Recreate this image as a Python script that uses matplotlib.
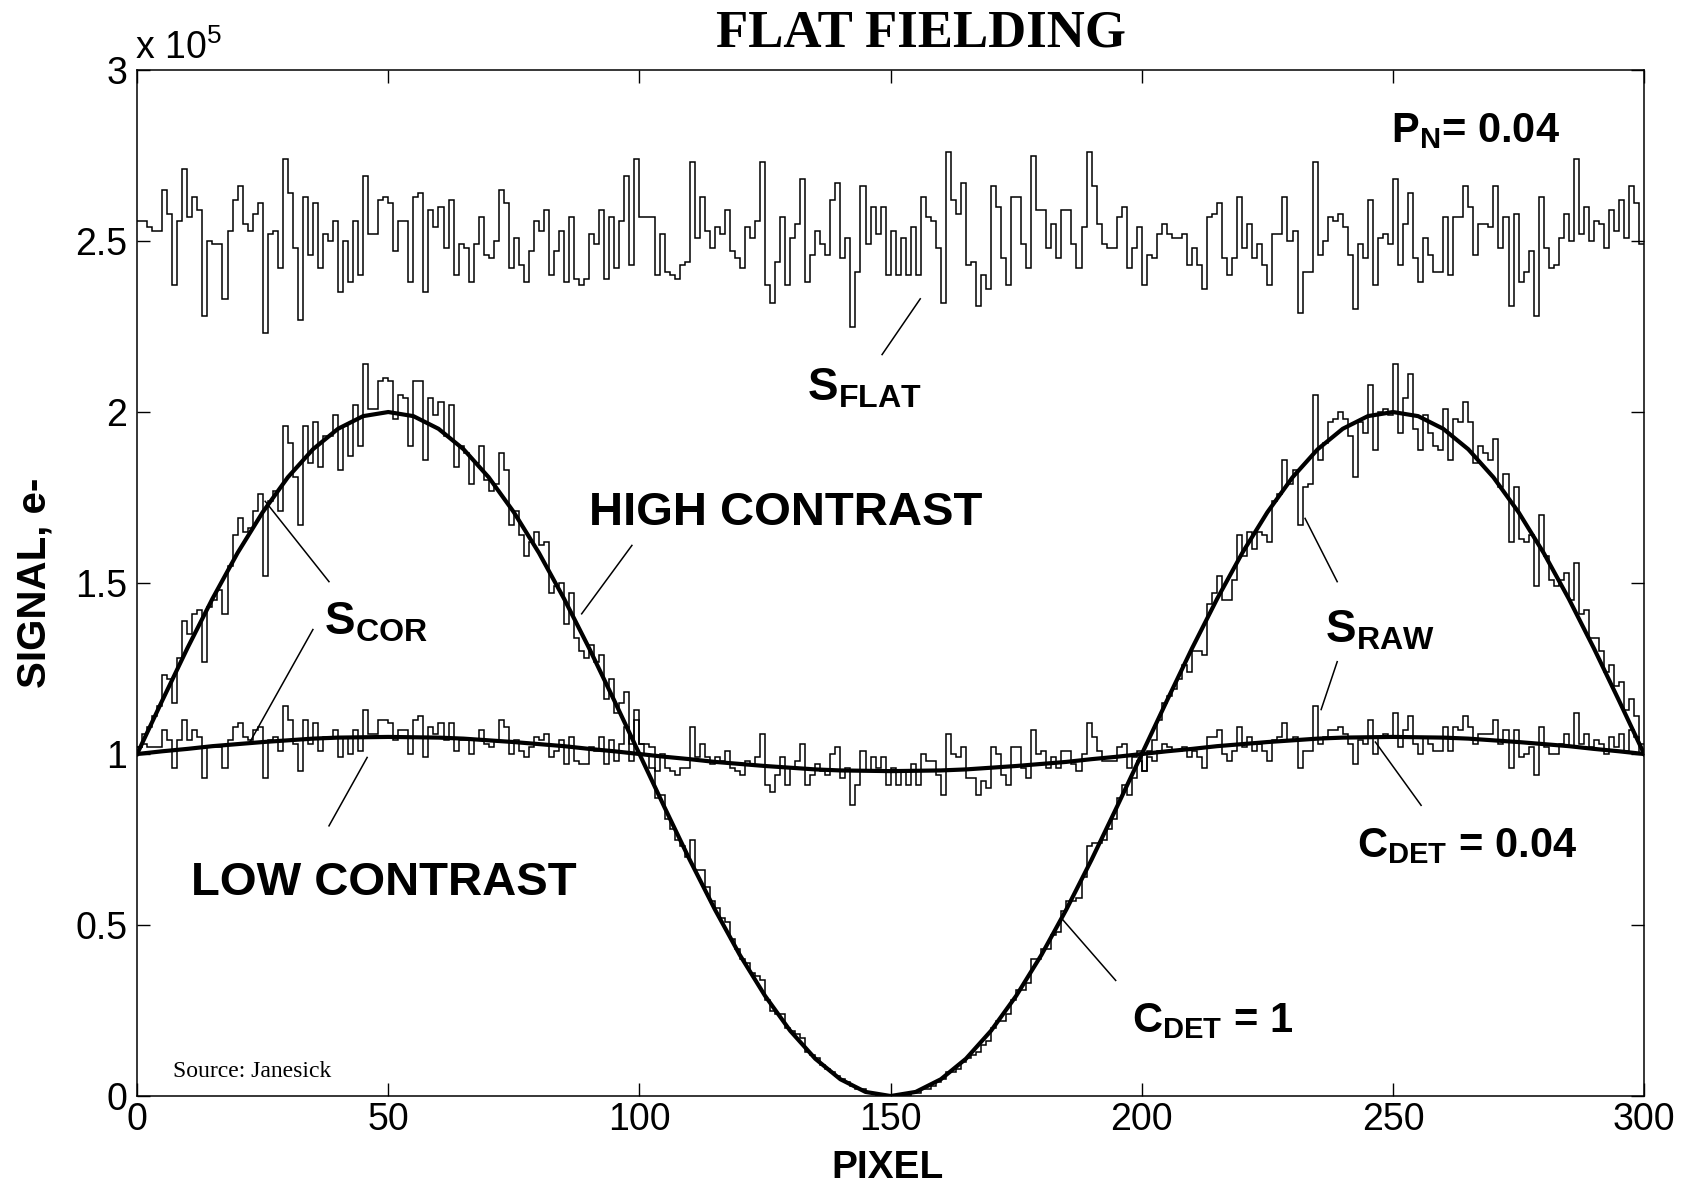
import numpy as np
import matplotlib
matplotlib.use("Agg")
import matplotlib.pyplot as plt

# signal values in units of 1e5 electrons, one value per pixel (0..299)
s_flat = [
    2.56, 2.56, 2.54, 2.53, 2.53, 2.65, 2.58, 2.37, 2.56, 2.71,
    2.57, 2.63, 2.59, 2.28, 2.50, 2.49, 2.49, 2.33, 2.53, 2.62,
    2.66, 2.55, 2.53, 2.58, 2.61, 2.23, 2.52, 2.53, 2.42, 2.74,
    2.64, 2.48, 2.27, 2.63, 2.46, 2.61, 2.42, 2.52, 2.50, 2.56,
    2.35, 2.50, 2.38, 2.56, 2.40, 2.69, 2.52, 2.52, 2.62, 2.63,
    2.61, 2.47, 2.56, 2.56, 2.38, 2.63, 2.64, 2.35, 2.59, 2.54,
    2.60, 2.48, 2.62, 2.40, 2.49, 2.48, 2.38, 2.49, 2.57, 2.46,
    2.45, 2.50, 2.65, 2.61, 2.42, 2.51, 2.43, 2.38, 2.47, 2.56,
    2.53, 2.59, 2.40, 2.47, 2.53, 2.38, 2.57, 2.39, 2.37, 2.39,
    2.52, 2.49, 2.59, 2.39, 2.57, 2.42, 2.56, 2.69, 2.43, 2.74,
    2.57, 2.57, 2.57, 2.40, 2.52, 2.41, 2.40, 2.39, 2.43, 2.44,
    2.73, 2.51, 2.63, 2.53, 2.48, 2.54, 2.52, 2.59, 2.47, 2.45,
    2.42, 2.54, 2.51, 2.56, 2.73, 2.37, 2.32, 2.44, 2.57, 2.37,
    2.51, 2.55, 2.68, 2.38, 2.46, 2.53, 2.49, 2.46, 2.62, 2.67,
    2.45, 2.51, 2.25, 2.41, 2.66, 2.49, 2.60, 2.52, 2.60, 2.40,
    2.53, 2.40, 2.51, 2.40, 2.54, 2.40, 2.63, 2.57, 2.56, 2.48,
    2.32, 2.76, 2.62, 2.58, 2.67, 2.43, 2.44, 2.31, 2.40, 2.36,
    2.66, 2.60, 2.45, 2.37, 2.63, 2.63, 2.49, 2.42, 2.75, 2.59,
    2.59, 2.48, 2.55, 2.45, 2.59, 2.59, 2.49, 2.42, 2.54, 2.76,
    2.66, 2.55, 2.49, 2.48, 2.48, 2.57, 2.60, 2.42, 2.48, 2.54,
    2.37, 2.46, 2.45, 2.52, 2.55, 2.52, 2.51, 2.51, 2.52, 2.43,
    2.48, 2.43, 2.36, 2.57, 2.58, 2.61, 2.45, 2.40, 2.45, 2.63,
    2.48, 2.55, 2.45, 2.49, 2.43, 2.37, 2.52, 2.52, 2.63, 2.50,
    2.53, 2.29, 2.41, 2.41, 2.73, 2.46, 2.50, 2.57, 2.56, 2.58,
    2.54, 2.46, 2.30, 2.49, 2.45, 2.62, 2.37, 2.51, 2.52, 2.49,
    2.68, 2.43, 2.55, 2.64, 2.45, 2.38, 2.51, 2.46, 2.41, 2.41,
    2.57, 2.40, 2.57, 2.57, 2.66, 2.60, 2.46, 2.55, 2.55, 2.54,
    2.66, 2.48, 2.57, 2.31, 2.58, 2.38, 2.41, 2.47, 2.28, 2.63,
    2.48, 2.42, 2.43, 2.51, 2.58, 2.50, 2.74, 2.52, 2.60, 2.50,
    2.56, 2.55, 2.48, 2.59, 2.53, 2.62, 2.51, 2.66, 2.61, 2.49,
]

s_raw_high = [
    1.02, 1.06, 1.08, 1.11, 1.14, 1.23, 1.22, 1.15, 1.28, 1.39,
    1.35, 1.41, 1.42, 1.27, 1.43, 1.45, 1.48, 1.41, 1.55, 1.64,
    1.69, 1.65, 1.66, 1.71, 1.76, 1.52, 1.74, 1.77, 1.71, 1.96,
    1.91, 1.81, 1.67, 1.96, 1.85, 1.97, 1.84, 1.93, 1.93, 1.99,
    1.83, 1.96, 1.87, 2.02, 1.90, 2.14, 2.01, 2.01, 2.09, 2.10,
    2.09, 1.98, 2.05, 2.04, 1.90, 2.09, 2.09, 1.86, 2.04, 1.99,
    2.03, 1.93, 2.02, 1.84, 1.90, 1.88, 1.79, 1.85, 1.90, 1.80,
    1.77, 1.79, 1.88, 1.83, 1.67, 1.71, 1.64, 1.58, 1.62, 1.65,
    1.61, 1.62, 1.47, 1.49, 1.50, 1.38, 1.47, 1.34, 1.30, 1.28,
    1.32, 1.27, 1.29, 1.16, 1.22, 1.12, 1.15, 1.18, 1.03, 1.13,
    1.03, 1.00, 0.96, 0.87, 0.88, 0.81, 0.78, 0.75, 0.73, 0.70,
    0.75, 0.66, 0.66, 0.61, 0.57, 0.55, 0.52, 0.51, 0.46, 0.43,
    0.40, 0.39, 0.36, 0.35, 0.34, 0.28, 0.25, 0.24, 0.24, 0.20,
    0.19, 0.18, 0.17, 0.13, 0.12, 0.11, 0.09, 0.08, 0.07, 0.06,
    0.05, 0.04, 0.03, 0.02, 0.02, 0.01, 0.01, 0.00, 0.00, 0.00,
    0.00, 0.00, 0.00, 0.00, 0.01, 0.01, 0.02, 0.02, 0.03, 0.04,
    0.05, 0.07, 0.07, 0.08, 0.10, 0.11, 0.12, 0.13, 0.15, 0.16,
    0.20, 0.22, 0.22, 0.24, 0.28, 0.31, 0.31, 0.33, 0.40, 0.40,
    0.43, 0.43, 0.47, 0.48, 0.54, 0.57, 0.57, 0.58, 0.64, 0.73,
    0.74, 0.74, 0.75, 0.78, 0.81, 0.87, 0.91, 0.88, 0.93, 0.98,
    0.95, 1.01, 1.04, 1.10, 1.15, 1.17, 1.19, 1.22, 1.26, 1.24,
    1.30, 1.30, 1.29, 1.44, 1.47, 1.52, 1.45, 1.45, 1.51, 1.64,
    1.58, 1.65, 1.60, 1.65, 1.64, 1.62, 1.74, 1.76, 1.86, 1.79,
    1.83, 1.67, 1.78, 1.79, 2.05, 1.86, 1.91, 1.97, 1.98, 2.00,
    1.98, 1.93, 1.81, 1.97, 1.94, 2.08, 1.89, 2.00, 2.01, 1.99,
    2.14, 1.94, 2.04, 2.11, 1.95, 1.89, 1.99, 1.94, 1.90, 1.89,
    2.01, 1.86, 1.98, 1.97, 2.03, 1.97, 1.85, 1.90, 1.88, 1.86,
    1.92, 1.78, 1.82, 1.62, 1.78, 1.63, 1.62, 1.64, 1.49, 1.70,
    1.58, 1.51, 1.49, 1.51, 1.53, 1.45, 1.56, 1.41, 1.42, 1.34,
    1.34, 1.30, 1.24, 1.26, 1.20, 1.21, 1.13, 1.16, 1.11, 1.03,
]

s_raw_low = [
    1.02, 1.03, 1.02, 1.02, 1.02, 1.07, 1.04, 0.96, 1.04, 1.10,
    1.04, 1.07, 1.05, 0.93, 1.02, 1.02, 1.02, 0.96, 1.04, 1.08,
    1.09, 1.05, 1.04, 1.07, 1.08, 0.93, 1.04, 1.05, 1.01, 1.14,
    1.10, 1.03, 0.95, 1.10, 1.03, 1.09, 1.01, 1.05, 1.05, 1.07,
    0.99, 1.05, 1.00, 1.07, 1.01, 1.13, 1.06, 1.06, 1.10, 1.10,
    1.09, 1.04, 1.07, 1.07, 1.00, 1.10, 1.11, 0.99, 1.08, 1.06,
    1.09, 1.04, 1.09, 1.01, 1.04, 1.04, 1.00, 1.04, 1.07, 1.03,
    1.02, 1.04, 1.10, 1.08, 1.00, 1.04, 1.01, 0.99, 1.02, 1.05,
    1.04, 1.06, 0.99, 1.01, 1.04, 0.97, 1.05, 0.98, 0.97, 0.97,
    1.02, 1.01, 1.05, 0.97, 1.04, 0.98, 1.03, 1.08, 0.98, 1.10,
    1.03, 1.03, 1.02, 0.95, 1.00, 0.96, 0.95, 0.94, 0.96, 0.96,
    1.08, 0.99, 1.03, 0.99, 0.97, 0.99, 0.98, 1.01, 0.96, 0.95,
    0.94, 0.98, 0.97, 0.99, 1.06, 0.91, 0.89, 0.94, 0.99, 0.91,
    0.96, 0.98, 1.03, 0.91, 0.94, 0.97, 0.95, 0.94, 1.00, 1.02,
    0.93, 0.96, 0.85, 0.91, 1.01, 0.95, 0.99, 0.96, 0.99, 0.91,
    0.96, 0.91, 0.95, 0.91, 0.97, 0.91, 1.00, 0.98, 0.98, 0.94,
    0.88, 1.06, 1.00, 0.99, 1.02, 0.93, 0.93, 0.88, 0.92, 0.90,
    1.02, 1.00, 0.94, 0.91, 1.02, 1.02, 0.96, 0.93, 1.07, 1.00,
    1.01, 0.96, 0.99, 0.96, 1.01, 1.01, 0.97, 0.95, 1.00, 1.09,
    1.05, 1.01, 0.98, 0.98, 0.98, 1.02, 1.03, 0.96, 0.99, 1.01,
    0.95, 0.99, 0.98, 1.01, 1.03, 1.02, 1.01, 1.01, 1.02, 0.99,
    1.01, 0.99, 0.96, 1.05, 1.05, 1.07, 1.00, 0.98, 1.01, 1.08,
    1.02, 1.05, 1.01, 1.03, 1.01, 0.98, 1.04, 1.05, 1.09, 1.04,
    1.05, 0.96, 1.01, 1.01, 1.14, 1.03, 1.05, 1.07, 1.07, 1.08,
    1.06, 1.03, 0.97, 1.04, 1.03, 1.10, 1.00, 1.05, 1.06, 1.05,
    1.12, 1.02, 1.07, 1.11, 1.03, 1.00, 1.05, 1.03, 1.01, 1.01,
    1.08, 1.01, 1.08, 1.07, 1.11, 1.08, 1.03, 1.06, 1.06, 1.06,
    1.10, 1.03, 1.07, 0.96, 1.07, 0.99, 1.00, 1.02, 0.94, 1.08,
    1.02, 1.00, 1.00, 1.03, 1.06, 1.02, 1.12, 1.03, 1.06, 1.02,
    1.04, 1.03, 1.00, 1.05, 1.02, 1.06, 1.01, 1.07, 1.05, 1.00,
]

# corrected (flat fielded) signals, read every 5 pixels
pixel_cor = np.arange(0, 301, 5)
s_cor_high = [
    1.000, 1.156, 1.309, 1.454, 1.588, 1.707, 1.809, 1.891, 1.951, 1.988,
    2.000, 1.988, 1.951, 1.891, 1.809, 1.707, 1.588, 1.454, 1.309, 1.156,
    1.000, 0.844, 0.691, 0.546, 0.412, 0.293, 0.191, 0.109, 0.049, 0.012,
    0.000, 0.012, 0.049, 0.109, 0.191, 0.293, 0.412, 0.546, 0.691, 0.844,
    1.000, 1.156, 1.309, 1.454, 1.588, 1.707, 1.809, 1.891, 1.951, 1.988,
    2.000, 1.988, 1.951, 1.891, 1.809, 1.707, 1.588, 1.454, 1.309, 1.156,
    1.000,
]
s_cor_low = [
    1.000, 1.008, 1.015, 1.023, 1.029, 1.035, 1.040, 1.045, 1.048, 1.049,
    1.050, 1.049, 1.048, 1.045, 1.040, 1.035, 1.029, 1.023, 1.015, 1.008,
    1.000, 0.992, 0.985, 0.977, 0.971, 0.965, 0.960, 0.955, 0.952, 0.951,
    0.950, 0.951, 0.952, 0.955, 0.960, 0.965, 0.971, 0.977, 0.985, 0.992,
    1.000, 1.008, 1.015, 1.023, 1.029, 1.035, 1.040, 1.045, 1.048, 1.049,
    1.050, 1.049, 1.048, 1.045, 1.040, 1.035, 1.029, 1.023, 1.015, 1.008,
    1.000,
]

xticks = [0, 50, 100, 150, 200, 250, 300]
yticks = [0, 0.5, 1, 1.5, 2, 2.5, 3]
ytick_labels = ['0', '0.5', '1', '1.5', '2', '2.5', '3']

plt.rcParams['font.family'] = ['Liberation Sans', 'DejaVu Sans']
plt.rcParams['mathtext.fontset'] = 'custom'
plt.rcParams['mathtext.rm'] = 'Liberation Sans'
plt.rcParams['mathtext.bf'] = 'Liberation Sans:bold'
plt.rcParams['mathtext.it'] = 'Liberation Sans:italic'

fig = plt.figure(figsize=(16.82, 11.89), dpi=100)
ax = fig.add_axes([0.0815, 0.0782, 0.8960, 0.8629])

edges = np.arange(len(s_flat) + 1)
ax.stairs(s_flat, edges, color='black', lw=1.1, baseline=None)
ax.stairs(s_raw_high, edges, color='black', lw=1.1, baseline=None)
ax.stairs(s_raw_low, edges, color='black', lw=1.1, baseline=None)
ax.plot(pixel_cor, s_cor_high, color='black', lw=3.0)
ax.plot(pixel_cor, s_cor_low, color='black', lw=3.0)

ax.set_xlim(0, 300)
ax.set_ylim(0, 3)
ax.set_xticks(xticks)
ax.set_xticklabels([str(t) for t in xticks])
ax.set_yticks(yticks)
ax.set_yticklabels(ytick_labels)
ax.tick_params(direction='in', length=9.5, width=1, labelsize=27,
               top=True, right=True)
ax.tick_params(axis='x', pad=4)
ax.tick_params(axis='y', pad=7)
for sp in ax.spines.values():
    sp.set_linewidth(1.1)

# labels
bold = dict(fontweight='bold', color='black')
ax.text(249.7, 2.79, r'$\mathbf{P}_{\mathbf{N}}$= 0.04', fontsize=30, **bold)
ax.text(133.3, 2.035, r'$\mathbf{S}_{\mathbf{FLAT}}$', fontsize=33, **bold)
ax.text(90.0, 1.67, 'HIGH CONTRAST', fontsize=34, **bold)
ax.text(37.2, 1.35, r'$\mathbf{S}_{\mathbf{COR}}$', fontsize=33, **bold)
ax.text(10.7, 0.589, 'LOW CONTRAST', fontsize=34, **bold)
ax.text(236.5, 1.325, r'$\mathbf{S}_{\mathbf{RAW}}$', fontsize=33, **bold)
ax.text(242.9, 0.70, r'$\mathbf{C}_{\mathbf{DET}}$ = 0.04', fontsize=30, **bold)
ax.text(198.0, 0.187, r'$\mathbf{C}_{\mathbf{DET}}$ = 1', fontsize=30, **bold)
ax.text(7.1, 0.055, 'Source: Janesick', fontsize=17, family='Liberation Serif')

# leader lines
leaders = [
    ((148.3, 2.168), (155.9, 2.331)),
    ((88.5, 1.41), (98.5, 1.61)),
    ((25.5, 1.739), (38.2, 1.504)),
    ((35.0, 1.364), (22.5, 1.036)),
    ((38.2, 0.79), (45.8, 0.99)),
    ((232.5, 1.689), (238.9, 1.504)),
    ((238.9, 1.27), (235.7, 1.13)),
    ((246.5, 1.035), (255.6, 0.85)),
    ((184.0, 0.52), (194.8, 0.338)),
]
for (x0, y0), (x1, y1) in leaders:
    ax.plot([x0, x1], [y0, y1], color='black', lw=1.1)

fig.text(0.5476, 0.9605, 'FLAT FIELDING', fontsize=38, fontweight='bold',
         family='Liberation Serif', ha='center', va='baseline')
fig.text(0.0803, 0.9504, r'x 10$^{5}$', fontsize=27, ha='left', va='baseline')
fig.text(0.0208, 0.51, 'SIGNAL, e-', fontsize=29, fontweight='bold',
         rotation=90, ha='center', va='center')
fig.text(0.5279, 0.0095, 'PIXEL', fontsize=28, fontweight='bold',
         ha='center', va='baseline')

fig.savefig('out.png', dpi=100)
